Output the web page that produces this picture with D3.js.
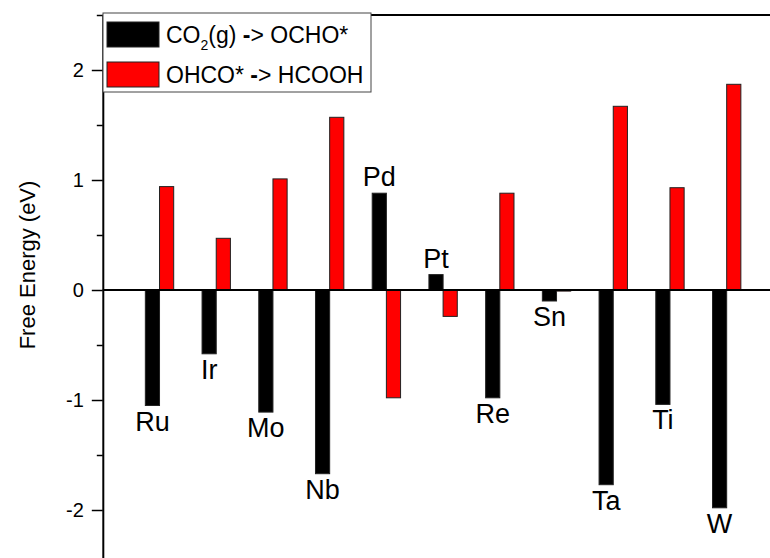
<!DOCTYPE html>
<html>
<head>
<meta charset="utf-8">
<script src="https://cdn.jsdelivr.net/npm/d3@7"></script>
<style>
    body { margin: 0; background: #fff; }
    svg { display: block; font-family: "Liberation Sans", Arial, sans-serif; }
</style>
</head>
<body>
<div id="chart"></div>
<script>
const metals = ["Ru", "Ir", "Mo", "Nb", "Pd", "Pt", "Re", "Sn", "Ta", "Ti", "W"];
const co2ToOcho = [-1.05, -0.58, -1.11, -1.67, 0.88, 0.14, -0.98, -0.10, -1.77, -1.04, -1.98];
const ohcoToHcooh = [0.94, 0.47, 1.01, 1.57, -0.98, -0.24, 0.88, -0.01, 1.67, 0.93, 1.87];
const majorTicks = [-2, -1, 0, 1, 2];
const minorTicks = [-2.5, -1.5, -0.5, 0.5, 1.5, 2.5];
const legendItems = ["CO2(g) -> OCHO*", "OHCO* -> HCOOH"];

(() => {
    const width = 770, height = 558;
    const colors = ["#000000", "#ff0000"];

    const svg = d3.select("#chart").append("svg")
        .attr("width", width)
        .attr("height", height);

    // x: category index, the frame runs past the right edge of the picture
    const x = d3.scaleLinear().domain([0, 12]).range([102.8, 783.4]);
    const y = d3.scaleLinear().domain([-2.5, 2.5]).range([565, 15]);
    const bw = x(0.25) - x(0);

    const rows = metals.map((m, i) => ({ name: m, idx: i + 1, a: co2ToOcho[i], b: ohcoToHcooh[i] }));

    // bars
    const barRect = (sel, key, offset, fill) => sel.append("rect")
        .attr("x", d => x(d.idx) + offset)
        .attr("y", d => y(Math.max(0, d[key])))
        .attr("width", bw)
        .attr("height", d => Math.abs(y(d[key]) - y(0)))
        .attr("fill", fill)
        .attr("stroke", "#222")
        .attr("stroke-width", 1);

    const g = svg.append("g").selectAll("g").data(rows).enter().append("g");
    barRect(g, "a", -bw, colors[0]);
    barRect(g, "b", 0, colors[1]);

    // metal labels at the end of the black bar
    g.append("text")
        .attr("x", d => x(d.idx) - bw / 2)
        .attr("y", d => d.a < 0 ? y(d.a) + 25 : y(d.a) - 7)
        .attr("text-anchor", "middle")
        .style("font-size", "27px")
        .text(d => d.name);

    // zero line
    svg.append("line")
        .attr("x1", x(0)).attr("x2", width)
        .attr("y1", y(0)).attr("y2", y(0))
        .attr("stroke", "#000").attr("stroke-width", 2);

    // top frame
    svg.append("line")
        .attr("x1", x(0)).attr("x2", width)
        .attr("y1", y(2.5)).attr("y2", y(2.5))
        .attr("stroke", "#000").attr("stroke-width", 2);

    // left axis
    const yAxis = svg.append("g")
        .attr("transform", `translate(${x(0)},0)`)
        .call(d3.axisLeft(y).tickValues(majorTicks).tickFormat(d => String(d))
            .tickSize(11).tickSizeOuter(0).tickPadding(8));
    yAxis.select(".domain").attr("stroke-width", 2);
    yAxis.selectAll(".tick line").attr("stroke-width", 1.5);
    yAxis.selectAll(".tick text")
        .style("font-size", "20px")
        .style("font-family", "'Liberation Sans', Arial, sans-serif");

    svg.append("g")
        .attr("transform", `translate(${x(0)},0)`)
        .call(d3.axisLeft(y).tickValues(minorTicks).tickFormat("").tickSize(6).tickSizeOuter(0))
        .call(a => a.select(".domain").remove())
        .selectAll(".tick line").attr("stroke-width", 1.5);

    svg.append("text")
        .attr("transform", "translate(35,265) rotate(-90)")
        .attr("text-anchor", "middle")
        .style("font-size", "22px")
        .text("Free Energy (eV)");

    // legend
    const lg = svg.append("g").attr("transform", "translate(103,13)");
    lg.append("rect")
        .attr("width", 268).attr("height", 79)
        .attr("fill", "#fff").attr("stroke", "#444").attr("stroke-width", 1);

    legendItems.forEach((label, i) => {
        const row = lg.append("g").attr("transform", `translate(4,${9 + i * 40})`);
        row.append("rect")
            .attr("width", 52).attr("height", 25)
            .attr("fill", colors[i]).attr("stroke", "#222").attr("stroke-width", 1);
        const t = row.append("text")
            .attr("x", 59).attr("y", 21)
            .style("font-size", "23px");
        const [left, right] = label.split(" -> ");
        if (left.startsWith("CO2")) {
            t.append("tspan").text("CO");
            t.append("tspan").attr("dy", 7).style("font-size", "14px").text("2");
            t.append("tspan").attr("dy", -7).text(left.slice(3) + " ");
        } else {
            t.append("tspan").text(left + " ");
        }
        t.append("tspan").style("font-weight", "bold").text("-");
        t.append("tspan").text("> " + right);
    });
})();
</script>
</body>
</html>
